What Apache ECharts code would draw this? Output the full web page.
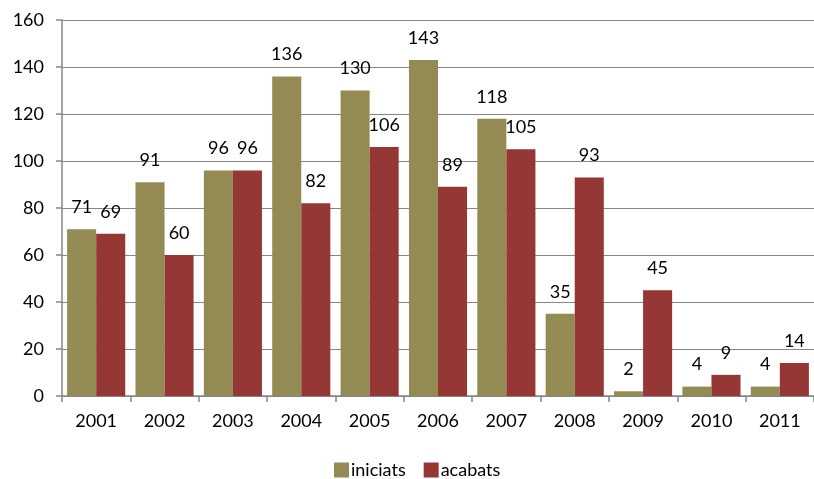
<!DOCTYPE html>
<html><head><meta charset="utf-8">
<script src="https://cdn.jsdelivr.net/npm/echarts@6/dist/echarts.min.js"></script>
<style>html,body{margin:0;padding:0;background:#fff}#c{width:814px;height:479px}</style>
</head><body><div id="c"></div>
<script>
var years = ['2001','2002','2003','2004','2005','2006','2007','2008','2009','2010','2011'];
var iniciats = [71,91,96,136,130,143,118,35,2,4,4];
var acabats = [69,60,96,82,106,89,105,93,45,9,14];
var seriesNames = ['iniciats','acabats'];
var FONT = 'Lato';
var chart = echarts.init(document.getElementById('c'));
var lbl = {show:true, position:'top', color:'#000', fontSize:18, fontFamily:FONT, distance:13};
chart.setOption({
  animation:false,
  textStyle:{fontFamily:FONT},
  grid:{left:62, right:0, top:20, bottom:83},
  legend:{top:461, left:334, padding:0, itemWidth:15, itemHeight:15, itemGap:18, icon:'rect',
    textStyle:{fontSize:18, color:'#000', fontFamily:FONT, padding:[0,0,0,-3]}, data:seriesNames},
  xAxis:{type:'category', data:years,
    axisLine:{lineStyle:{color:'#868686', width:1.5}},
    axisTick:{show:true, length:6, lineStyle:{color:'#868686', width:1.5}},
    axisLabel:{color:'#000', fontSize:18, fontFamily:FONT, margin:16}},
  yAxis:{type:'value', min:0, max:160, interval:20,
    axisLine:{show:true, lineStyle:{color:'#868686', width:1.5}},
    axisTick:{show:true, length:6, lineStyle:{color:'#868686', width:1.5}},
    splitLine:{show:true, lineStyle:{color:'#868686', width:1}},
    axisLabel:{color:'#000', fontSize:18, fontFamily:FONT, margin:18}},
  series:[
    {name:seriesNames[0], type:'bar', data:iniciats, barGap:'0%', barCategoryGap:'15%',
     itemStyle:{color:'#948A54'}, label:lbl},
    {name:seriesNames[1], type:'bar', data:acabats, barGap:'0%', barCategoryGap:'15%',
     itemStyle:{color:'#953735'}, label:lbl}
  ]
});
</script></body></html>
